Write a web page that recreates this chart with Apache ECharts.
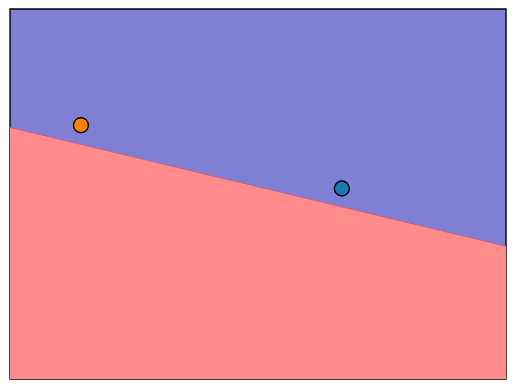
<!DOCTYPE html>
<html>
<head>
<meta charset="utf-8">
<script src="https://cdn.jsdelivr.net/npm/echarts@6/dist/echarts.min.js"></script>
<style>html,body{margin:0;padding:0;background:#fff;}#c{width:515px;height:389px;}</style>
</head>
<body>
<div id="c"></div>
<script>
// Decision boundary (x, y) in data units
var boundaryX = [0, 100];
var boundaryY = [68.0, 35.9];
// Points
var pointsClass0 = [[66.9, 51.5]];   // blue
var pointsClass1 = [[14.3, 68.6]];   // orange

var chart = echarts.init(document.getElementById('c'));
chart.setOption({
  animation: false,
  grid: {left: 10, right: 9, top: 9, bottom: 10, show: true, backgroundColor: '#7f80d4', borderColor: '#000', borderWidth: 1.4, z: 0},
  xAxis: {type: 'value', min: 0, max: 100, axisLine: {show: false}, axisTick: {show: false}, axisLabel: {show: false}, splitLine: {show: false}},
  yAxis: {type: 'value', min: 0, max: 100, axisLine: {show: false}, axisTick: {show: false}, axisLabel: {show: false}, splitLine: {show: false}},
  series: [
    {type: 'line', data: boundaryX.map(function(x, i){return [x, boundaryY[i]];}), symbol: 'none',
     lineStyle: {color: '#d05580', width: 0.8}, areaStyle: {color: '#ff8b8b', opacity: 1, origin: 'start'}, z: 1},
    {type: 'scatter', data: pointsClass0, symbolSize: 15, itemStyle: {color: '#1f77b4', opacity: 1, borderColor: '#000', borderWidth: 1.4}, z: 3},
    {type: 'scatter', data: pointsClass1, symbolSize: 15, itemStyle: {color: '#ff7f0e', opacity: 1, borderColor: '#000', borderWidth: 1.4}, z: 3}
  ]
});
</script>
</body>
</html>
